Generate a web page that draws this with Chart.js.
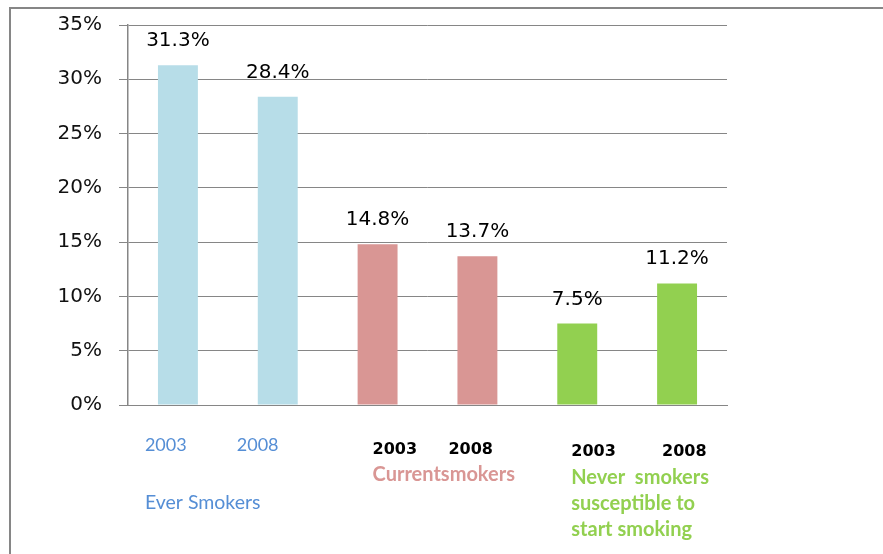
<!DOCTYPE html>
<html>
<head>
<meta charset="utf-8">
<script src="https://cdn.jsdelivr.net/npm/chart.js@4"></script>
<style>
  html, body { margin: 0; padding: 0; background: #fff; }
  #wrap { width: 883px; height: 554px; position: relative; }
</style>
</head>
<body>
<div id="wrap"><canvas id="smokeChart"></canvas></div>
<script>
// values
var years = ['2003', '2008', '2003', '2008', '2003', '2008'];
var rates = [31.3, 28.4, 14.8, 13.7, 7.5, 11.2];
var barColors = ['#B7DDE8', '#B7DDE8', '#D99694', '#D99694', '#92D050', '#92D050'];
var groupNames = [['Ever Smokers'], ['Currentsmokers'], ['Never  smokers', 'susceptible to', 'start smoking']];
var groupColors = ['#558ED5', '#D99694', '#92D050'];
var yTicks = [0, 5, 10, 15, 20, 25, 30, 35];

// year label placement (offset from bar centre, middle y)
var yearOffsets = [-33, -41, -5, -29, -6, -15];
var yearY = [445, 445, 450, 450, 452, 452];
var groupFirstCat = [0, 2, 4];
var groupY = [503, 475, 478];

var framePlugin = {
  id: 'frame',
  beforeDraw: function(chart) {
    var ctx = chart.ctx;
    ctx.save();
    ctx.fillStyle = '#fff';
    ctx.fillRect(0, 0, chart.width, chart.height);
    ctx.strokeStyle = '#868686';
    ctx.lineWidth = 2;
    ctx.beginPath();
    ctx.moveTo(10, chart.height);
    ctx.lineTo(10, 8);
    ctx.lineTo(chart.width, 8);
    ctx.stroke();
    ctx.restore();
  }
};

var labelPlugin = {
  id: 'barLabels',
  afterDatasetsDraw: function(chart) {
    var ctx = chart.ctx;
    var meta = chart.getDatasetMeta(0);
    var xs = chart.scales.x;
    ctx.save();
    // value labels
    ctx.font = '20px "DejaVu Sans"';
    ctx.fillStyle = '#000';
    ctx.textAlign = 'center';
    ctx.textBaseline = 'alphabetic';
    meta.data.forEach(function(bar, i) {
      ctx.fillText(rates[i].toFixed(1) + '%', bar.x, bar.y - 19);
    });
    // year labels
    ctx.textAlign = 'left';
    ctx.textBaseline = 'middle';
    years.forEach(function(y, i) {
      var cx = xs.getPixelForValue(i);
      if (i < 2) {
        ctx.font = '18px Lato';
        ctx.fillStyle = groupColors[0];
      } else {
        ctx.font = 'bold 16px "DejaVu Sans"';
        ctx.fillStyle = '#000';
      }
      ctx.fillText(y, cx + yearOffsets[i], yearY[i]);
    });
    // group names
    groupNames.forEach(function(lines, g) {
      var cat = groupFirstCat[g];
      var left = xs.getPixelForValue(cat) + yearOffsets[cat];
      ctx.font = (g === 0 ? '19.5px' : 'bold 20px') + ' Lato';
      ctx.fillStyle = groupColors[g];
      lines.forEach(function(t, k) {
        ctx.fillText(t, left, groupY[g] + k * 26);
      });
    });
    ctx.restore();
  }
};

new Chart(document.getElementById('smokeChart'), {
  type: 'bar',
  data: {
    labels: years,
    datasets: [{
      data: rates,
      backgroundColor: barColors,
      barPercentage: 0.4,
      categoryPercentage: 1.0
    }]
  },
  options: {
    responsive: true,
    maintainAspectRatio: false,
    animation: false,
    layout: { padding: { left: 10, right: 156, top: 25, bottom: 149 } },
    plugins: {
      legend: { display: false },
      tooltip: { enabled: false }
    },
    scales: {
      x: {
        ticks: { display: false },
        grid: { display: false },
        border: { color: '#868686', width: 1 },
        afterFit: function(scale) { scale.height = 0; }
      },
      y: {
        min: 0,
        max: 35,
        afterBuildTicks: function(scale) {
          scale.ticks = yTicks.map(function(v) { return { value: v }; });
        },
        ticks: {
          padding: 17,
          color: '#111',
          font: { family: 'DejaVu Sans', size: 20 },
          callback: function(v) { return v + '%'; }
        },
        grid: { color: '#868686', lineWidth: 1, tickLength: 9 },
        border: { color: '#868686', width: 1.5 },
        afterFit: function(scale) {
          scale.width = 118;
          scale.paddingTop = 0;
          scale.paddingBottom = 0;
        }
      }
    }
  },
  plugins: [framePlugin, labelPlugin]
});
</script>
</body>
</html>
